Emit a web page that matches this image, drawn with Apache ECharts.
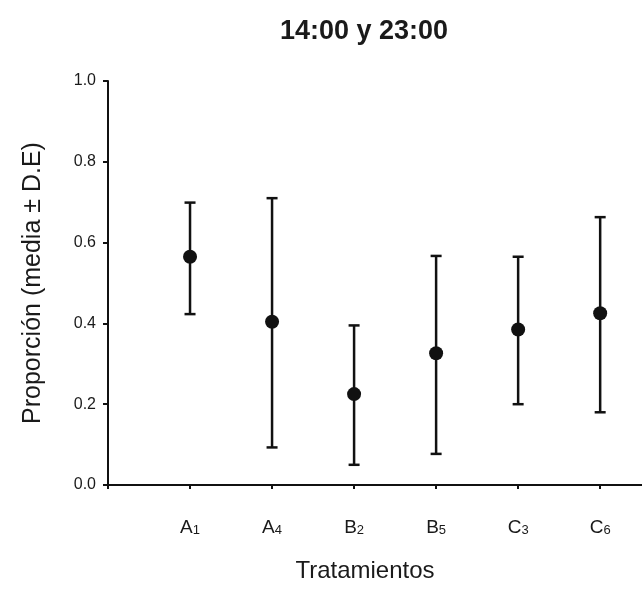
<!DOCTYPE html>
<html><head><meta charset="utf-8">
<script src="https://cdn.jsdelivr.net/npm/echarts@6/dist/echarts.min.js"></script>
<style>html,body{margin:0;padding:0;background:#fff}#c{width:642px;height:590px}</style>
</head><body><div id="c"></div>
<script>
const categories = ['A1','A4','B2','B5','C3','C6'];
const catMain = ['A','A','B','B','C','C'];
const catSub = ['1','4','2','5','3','6'];
const means = [0.565, 0.404, 0.225, 0.326, 0.385, 0.425];
const upper = [0.699, 0.710, 0.395, 0.567, 0.565, 0.663];
const lower = [0.423, 0.093, 0.050, 0.077, 0.200, 0.180];
const yTicks = [0, 0.2, 0.4, 0.6, 0.8, 1.0];

const font = "'Liberation Sans',Arial,sans-serif";
const pts = means.map((m,i)=>[i+1, m]);
const bars = means.map((m,i)=>[i+1, lower[i], upper[i]]);

const chart = echarts.init(document.getElementById('c'));
chart.setOption({
  animation:false,
  title:{text:'14:00 y 23:00', left:359, top:13, textAlign:'center',
    textStyle:{fontFamily:font, fontWeight:'bold', fontSize:27, color:'#1a1a1a'}},
  grid:{left:108, right:0, top:81, bottom:105, containLabel:false},
  xAxis:{type:'value', min:0, max:6.51, interval:1,
    name:'Tratamientos', nameLocation:'middle', nameGap:74,
    nameTextStyle:{fontFamily:font, fontSize:24, color:'#1a1a1a', padding:[0,20,0,0]},
    axisLine:{lineStyle:{color:'#111', width:2}},
    axisTick:{show:true, length:4, lineStyle:{color:'#111', width:2}},
    splitLine:{show:false},
    axisLabel:{margin:33, showMinLabel:true, showMaxLabel:false,
      formatter:v=>{const i=Math.round(v)-1; if(i<0||i>=catMain.length) return ''; return '{m|'+catMain[i]+'}{s|'+catSub[i]+'}';},
      rich:{m:{fontFamily:font, fontSize:19, color:'#1a1a1a'}, s:{fontFamily:font, fontSize:13, color:'#1a1a1a', padding:[6,0,0,0]}}}
  },
  yAxis:{type:'value', min:0, max:1, interval:0.2,
    name:'Proporción (media ± D.E)', nameLocation:'middle', nameGap:62, nameRotate:90,
    nameTextStyle:{fontFamily:font, fontSize:25, color:'#1a1a1a'},
    axisLine:{show:true, lineStyle:{color:'#111', width:2}},
    axisTick:{show:true, length:5, lineStyle:{color:'#111', width:2}},
    splitLine:{show:false},
    axisLabel:{margin:12, fontFamily:font, fontSize:16, color:'#1a1a1a',
      formatter:v=>v.toFixed(1)}
  },
  series:[
    {type:'custom', data:bars, z:2,
      renderItem:(params, api)=>{
        const x = api.value(0);
        const lo = api.coord([x, api.value(1)]);
        const hi = api.coord([x, api.value(2)]);
        const w = 5.5;
        const st = {stroke:'#111', lineWidth:2.5};
        return {type:'group', children:[
          {type:'line', shape:{x1:lo[0], y1:lo[1], x2:hi[0], y2:hi[1]}, style:st},
          {type:'line', shape:{x1:lo[0]-w, y1:lo[1], x2:lo[0]+w, y2:lo[1]}, style:st},
          {type:'line', shape:{x1:hi[0]-w, y1:hi[1], x2:hi[0]+w, y2:hi[1]}, style:st}
        ]};
      }},
    {type:'scatter', data:pts, symbol:'circle', symbolSize:14, z:3,
      itemStyle:{color:'#111', opacity:1}}
  ]
});
</script></body></html>
